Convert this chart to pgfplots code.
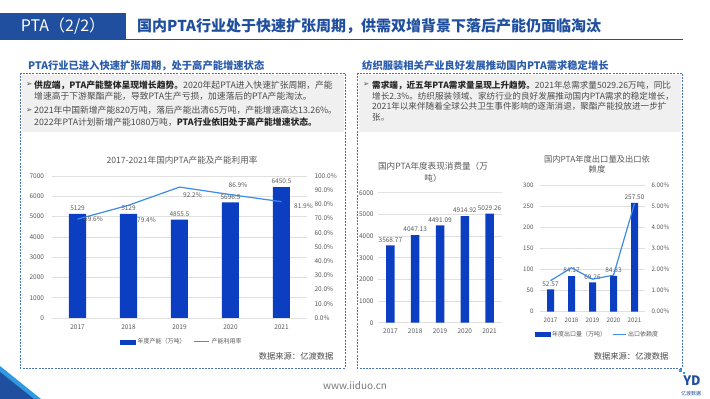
\documentclass[border=0pt]{standalone}
\usepackage{fontspec}
\setmainfont{Noto Sans CJK SC}
\newfontfamily\dejavu{DejaVu Sans}
\usepackage{pgfplots}
\pgfplotsset{compat=1.18}
\usepackage{pgfplotstable}

\definecolor{barblue}{HTML}{0B3EC1}
\definecolor{lineblue}{HTML}{3D8BEB}
\definecolor{hdrblue}{HTML}{1F4F9E}
\definecolor{headblue}{HTML}{2A5CAA}
\definecolor{txtgray}{HTML}{595959}
\definecolor{bodygray}{HTML}{4A4A4A}
\definecolor{gridgray}{HTML}{E0E0E0}
\definecolor{boxgray}{HTML}{F0F0F0}
\definecolor{dashblue}{HTML}{4A72B8}
\definecolor{lightblue}{HTML}{2E9BE0}

\pgfplotstableread{
x y dx dy
0 69.6 16 0
1 79.4 18 -15
2 92.2 13 -8
3 86.9 7.5 9.6
4 81.9 22 -4.3
}\utilA

\pgfplotsset{
  base/.style={scale only axis, anchor=south west, xmin=-0.5, xmax=4.5, ymin=0,
    major tick length=0pt, tick style={draw=none},
    tick label style={font=\fontsize{6.5}{7}\selectfont, text=txtgray},
    /pgf/number format/assume math mode=true,
    /pgf/number format/1000 sep={},
    clip=false},
  leftax/.style={base, axis x line*=bottom, axis y line*=left,
    y axis line style={draw=none}, x axis line style={draw=gridgray, line width=0.6pt, -},
    ymajorgrids, grid style={draw=gridgray, line width=0.5pt},
    xtick={0,...,4}, xticklabels={2017,2018,2019,2020,2021}},
  rightax/.style={base, axis x line=none, axis y line*=right,
    y axis line style={draw=none}, xtick=\empty},
  barlabels/.style={nodes near coords,
    every node near coord/.append style={font=\fontsize{6.5}{7}\selectfont, text=txtgray, inner sep=1pt, yshift=2pt}},
}

\begin{document}
\begin{tikzpicture}[x=1pt,y=1pt]
\path[use as bounding box, fill=white] (0,0) rectangle (710,399);

% header
\fill[hdrblue] (0,359) rectangle (126,386);
\node[text=white, font=\fontsize{16}{16}\selectfont] at (63,372.5) {PTA（2/2）};
\node[anchor=west, text=hdrblue, font=\bfseries\fontsize{15}{15}\selectfont, inner sep=0] at (137,372.5) {国内PTA行业处于快速扩张周期，供需双增背景下落后产能仍面临淘汰};
\draw[hdrblue, line width=1.2pt] (126,359.6) -- (683,359.6);

% section headings
\node[anchor=west, text=headblue, font=\bfseries\fontsize{10.3}{11}\selectfont, inner sep=0] at (28,333.5) {PTA行业已进入快速扩张周期，处于高产能增速状态};
\node[anchor=west, text=headblue, font=\bfseries\fontsize{10.3}{11}\selectfont, inner sep=0] at (362,333.5) {纺织服装相关产业良好发展推动国内PTA需求稳定增长};

% boxes
\fill[boxgray] (21.5,324) rectangle (343.5,267);
\fill[boxgray] (358.5,324) rectangle (680.5,267);
\draw[dashblue, line width=0.8pt, dash pattern=on 2pt off 1.2pt] (20,326) rectangle (345,31);
\draw[dashblue, line width=0.8pt, dash pattern=on 2pt off 1.2pt] (357,326) rectangle (682,31);

% body text left
\begin{scope}[every node/.style={anchor=west, inner sep=0, font=\fontsize{8.8}{10}\selectfont, text=bodygray}]
\node[font=\dejavu\fontsize{7.5}{8}\selectfont] at (26,314) {➢};
\node at (34,314) {\textbf{\color{black!85}供应端，PTA产能整体呈现增长趋势。}2020年起PTA进入快速扩张周期，产能};
\node at (34,303) {增速高于下游聚酯产能，导致PTA生产亏损，加速落后的PTA产能淘汰。};
\node[font=\dejavu\fontsize{7.5}{8}\selectfont] at (26,288.3) {➢};
\node at (34,288.3) {2021年中国新增产能820万吨，落后产能出清65万吨，产能增速高达13.26\%。};
\node at (34,277) {2022年PTA计划新增产能1080万吨，\textbf{\color{black!85}PTA行业依旧处于高产能增速状态。}};
\end{scope}
% right
\begin{scope}[every node/.style={anchor=west, inner sep=0, font=\fontsize{8.6}{10}\selectfont, text=bodygray}]
\node[font=\dejavu\fontsize{7.5}{8}\selectfont] at (363,314) {➢};
\node at (372,314) {\textbf{\color{black!85}需求端，近五年PTA需求量呈现上升趋势。}2021年总需求量5029.26万吨，同比};
\node at (372,303) {增长2.3\%。纺织服装领域、家纺行业的良好发展推动国内PTA需求的稳定增长，};
\node at (372,292.3) {2021年以来伴随着全球公共卫生事件影响的逐渐消退，聚酯产能投放进一步扩};
\node at (372,281.5) {张。};
\end{scope}

% chart titles
\node[text=txtgray, font=\fontsize{8.6}{9}\selectfont] at (182,238.3) {2017-2021年国内PTA产能及产能利用率};
\node[text=txtgray, font=\fontsize{8.6}{9}\selectfont] at (433,233) {国内PTA年度表现消费量（万};
\node[text=txtgray, font=\fontsize{8.6}{9}\selectfont] at (433,221) {吨）};
\node[text=txtgray, font=\fontsize{8.3}{9}\selectfont] at (597,240) {国内PTA年度出口量及出口依};
\node[text=txtgray, font=\fontsize{8.3}{9}\selectfont] at (597,229.5) {赖度};

% chart 1 bars
\begin{axis}[leftax, at={(52pt,81pt)}, width=255pt, height=142pt, ymax=7000,
  ytick={0,1000,...,7000},
  yticklabel style={xshift=-4.5pt}, xticklabel style={yshift=-3pt}]
\addplot[ybar, bar width=17pt, fill=barblue, draw=none, barlabels]
  coordinates {(0,5129) (1,5129) (2,4855.5) (3,5696.5) (4,6450.5)};
\end{axis}
% chart 1 line
\begin{axis}[rightax, at={(52pt,81pt)}, width=255pt, height=142pt, ymax=100,
  ytick={0,10,...,100},
  yticklabel={\pgfmathprintnumber[fixed,fixed zerofill,precision=1]{\tick}\%},
  yticklabel style={xshift=4pt},
  legend style={draw=none, fill=none, font=\fontsize{6}{7}\selectfont, text=txtgray,
    at={(0.51,-0.167)}, anchor=center, legend columns=2,
    /tikz/every even column/.append style={column sep=6pt}},
  legend cell align=left]
\addlegendimage{legend image code/.code={\fill[barblue] (0pt,-2pt) rectangle (15pt,2pt);}}
\addlegendentry{年度产能（万吨）}
\addplot[lineblue, line width=1.2pt, mark=none,
  legend image code/.code={\draw[lineblue, line width=1pt] (0pt,0pt) -- (15pt,0pt);},
  nodes near coords={\pgfmathprintnumber[fixed,fixed zerofill,precision=1]{\pgfplotspointmeta}\%},
  visualization depends on={\thisrow{dx} \as \dx},
  visualization depends on={\thisrow{dy} \as \dy},
  every node near coord/.append style={anchor=center, xshift=\dx pt, yshift=\dy pt,
    font=\fontsize{6.5}{7}\selectfont, text=txtgray}]
  table[x=x, y=y, meta=y]{\utilA};
\addlegendentry{产能利用率}
\end{axis}

% chart 2
\begin{axis}[leftax, at={(378pt,76.3pt)}, width=124pt, height=130pt, ymax=6000,
  ytick={0,1000,...,6000},
  yticklabel style={xshift=-1pt}, xticklabel style={yshift=-3pt}]
\addplot[ybar, bar width=8.5pt, fill=barblue, draw=none, barlabels,
  nodes near coords={\pgfmathprintnumber[fixed,fixed zerofill,precision=2]{\pgfplotspointmeta}}]
  coordinates {(0,3568.77) (1,4047.13) (2,4491.09) (3,4914.92) (4,5029.26)};
\end{axis}

% chart 3
\begin{axis}[leftax, at={(540pt,87.3pt)}, width=105pt, height=126.7pt, ymax=300,
  ytick={0,50,...,300},
  tick label style={font=\fontsize{6.2}{7}\selectfont},
  yticklabel style={xshift=-3pt}, xticklabel style={yshift=-2.5pt}]
\addplot[ybar, bar width=7pt, fill=barblue, draw=none, barlabels,
  nodes near coords={\pgfmathprintnumber[fixed,fixed zerofill,precision=2]{\pgfplotspointmeta}}]
  coordinates {(0,52.57) (1,84.17) (2,69.26) (3,84.83) (4,257.50)};
\end{axis}
\begin{axis}[rightax, at={(540pt,87.3pt)}, width=105pt, height=126.7pt, ymax=6,
  ytick={0,1,...,6},
  tick label style={font=\fontsize{6.2}{7}\selectfont},
  yticklabel={\pgfmathprintnumber[fixed,fixed zerofill,precision=2]{\tick}\%},
  yticklabel style={xshift=3pt},
  legend style={draw=none, fill=none, font=\fontsize{6}{7}\selectfont, text=txtgray,
    at={(0.547,-0.178)}, anchor=center, legend columns=2,
    /tikz/every even column/.append style={column sep=4pt}},
  legend cell align=left]
\addlegendimage{legend image code/.code={\fill[barblue] (0pt,-2pt) rectangle (15pt,2pt);}}
\addlegendentry{年度出口量（万吨）}
\addplot[lineblue, line width=1.2pt, mark=none,
  legend image code/.code={\draw[lineblue, line width=1pt] (0pt,0pt) -- (13pt,0pt);}]
  coordinates {(0,1.47) (1,2.08) (2,1.54) (3,1.73) (4,5.12)};
\addlegendentry{出口依赖度}
\end{axis}

% sources and footer
\node[anchor=east, text=bodygray, font=\fontsize{8.3}{9}\selectfont] at (337,43) {数据来源：亿渡数据};
\node[anchor=east, text=bodygray, font=\fontsize{8.3}{9}\selectfont] at (672,43) {数据来源：亿渡数据};
\node[text=txtgray!80, font=\fontsize{10}{11}\selectfont] at (355,13) {www.iiduo.cn};

% decorations
\fill[lightblue] (0,33) -- (41,0) -- (0,0) -- cycle;
\fill[hdrblue] (0,27) -- (34,0) -- (0,0) -- cycle;
\node[text=hdrblue, font=\bfseries\fontsize{13}{13}\selectfont] at (692,18) {YD};
\fill[lightblue] (679,27) rectangle (682,30);
\fill[lightblue] (683,25) rectangle (685,27);
\node[text=hdrblue, font=\fontsize{5}{5}\selectfont] at (691,5) {亿渡数据};
\end{tikzpicture}
\end{document}
